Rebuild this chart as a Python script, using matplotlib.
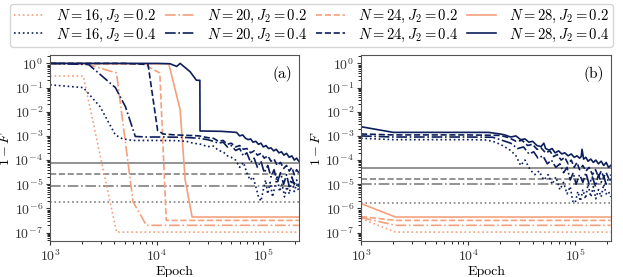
import numpy as np
import matplotlib
matplotlib.use("Agg")
import matplotlib.pyplot as plt
from matplotlib.lines import Line2D

plt.rcParams["mathtext.fontset"] = "cm"
plt.rcParams["font.family"] = "serif"
plt.rcParams["font.serif"] = ["cmr10", "DejaVu Serif"]
plt.rcParams["axes.unicode_minus"] = False
plt.rcParams["axes.formatter.use_mathtext"] = True

ORANGE = "#f4a07c"
NAVY = "#0c1f5c"
GRAY = "#808080"

sizes = [16, 20, 24, 28]
styles = [":", "-.", "--", "-"]

# ---- panel (a): (epoch, 1-F) ----
a_o16 = [(1000, 0.3), (2050, 0.3), (4200, 1.05e-7), (215000, 1.05e-7)]
a_o20 = [(1000, 1.0), (2200, 0.95), (4200, 0.4), (6000, 1.9e-6), (8000, 2e-7), (215000, 2e-7)]
a_o24 = [(1000, 1.0), (7500, 0.95), (10700, 0.4), (12300, 3.2e-7), (215000, 3.2e-7)]
a_o28 = [(1000, 1.0), (13000, 0.95), (16600, 1.2e-2), (18500, 1.5e-5), (21500, 4.4e-7),
         (215000, 4.4e-7)]

a_n16 = [(1000, 0.13), (2050, 0.1), (2950, 1.6e-2), (4100, 1.1e-3), (4800, 7.5e-4),
         (6000, 6.5e-4), (10000, 6.5e-4), (15000, 6.4e-4), (19000, 6e-4), (22000, 5e-4),
         (26000, 4.5e-4), (30000, 3.6e-4), (34000, 3.8e-4), (38000, 2.5e-4), (42000, 2.2e-4),
         (46000, 1.5e-4), (50000, 1.3e-4), (55000, 1e-4), (60000, 5e-5), (65000, 8e-5),
         (70000, 3e-5), (75000, 1.5e-5), (80000, 2e-5), (85000, 8e-6), (90000, 3e-6),
         (95000, 2e-6), (100000, 6e-6), (105000, 1.5e-5), (110000, 4e-6), (116000, 1.2e-5),
         (122000, 3e-6), (128000, 8e-6), (135000, 2e-5), (142000, 5e-6), (150000, 1e-5),
         (158000, 3e-6), (166000, 8e-6), (175000, 4e-6), (185000, 1.5e-5), (195000, 5e-6),
         (205000, 1e-5), (215000, 5e-6)]
a_n20 = [(1000, 1.0), (2300, 0.9), (4100, 0.1), (5100, 1.6e-2), (6300, 9.5e-4),
         (8000, 9e-4), (12000, 9e-4), (16000, 8.8e-4), (20000, 8.5e-4), (25000, 8e-4),
         (30000, 7e-4), (34000, 6e-4), (38000, 5e-4), (42000, 5.5e-4), (46000, 3.5e-4),
         (50000, 4e-4), (55000, 2.5e-4), (60000, 3e-4), (65000, 1.5e-4), (70000, 2e-4),
         (76000, 8e-5), (82000, 1.2e-4), (88000, 5e-5), (95000, 9e-5), (102000, 3e-5),
         (110000, 6e-5), (118000, 2e-5), (126000, 4e-5), (135000, 1.2e-5), (145000, 3e-5),
         (155000, 1e-5), (165000, 2.5e-5), (175000, 8e-6), (185000, 2e-5), (195000, 1e-5),
         (205000, 1.5e-5), (215000, 8e-6)]
a_n24 = [(1000, 1.0), (5000, 1.0), (8300, 0.9), (10200, 1.7e-3), (11500, 1.2e-3),
         (15000, 1.1e-3), (20000, 1.05e-3), (25000, 1e-3), (30000, 8.5e-4), (34000, 8e-4),
         (38000, 6e-4), (42000, 6.5e-4), (46000, 4.5e-4), (50000, 5e-4), (55000, 3.5e-4),
         (60000, 4e-4), (65000, 2.8e-4), (70000, 3e-4), (76000, 2e-4), (82000, 2.4e-4),
         (88000, 1.6e-4), (95000, 1.9e-4), (102000, 1.2e-4), (110000, 1.5e-4), (118000, 9e-5),
         (126000, 1.1e-4), (135000, 6e-5), (145000, 8e-5), (155000, 4.5e-5), (165000, 6e-5),
         (175000, 3.5e-5), (185000, 5e-5), (195000, 2.5e-5), (205000, 4e-5), (215000, 3e-5)]
a_n28 = [(1000, 1.0), (10000, 1.0), (13300, 0.97), (15400, 0.75), (16600, 1.0),
         (20600, 0.45), (23600, 0.2), (25400, 0.2), (25500, 1.6e-3), (40000, 1.55e-3),
         (56000, 1.4e-3), (60000, 1.0e-3), (64000, 1.1e-3), (68000, 8e-4), (72000, 7e-4),
         (76000, 7.5e-4), (80000, 5.5e-4), (85000, 6e-4), (90000, 4.5e-4), (95000, 5e-4),
         (100000, 3.5e-4), (106000, 4e-4), (112000, 3e-4), (118000, 3.2e-4), (125000, 2.4e-4),
         (132000, 2.8e-4), (140000, 2e-4), (148000, 2.2e-4), (156000, 1.6e-4), (165000, 1.9e-4),
         (175000, 1.3e-4), (185000, 1.5e-4), (195000, 1.0e-4), (205000, 1.2e-4), (215000, 9e-5)]
a_thresholds = [1.8e-6, 8.5e-6, 2.7e-5, 7.8e-5]

# ---- panel (b) ----
b_o16 = [(1000, 3.8e-7), (2100, 1.05e-7), (215000, 1.05e-7)]
b_o20 = [(1000, 4.2e-7), (2100, 2e-7), (215000, 2e-7)]
b_o24 = [(1000, 4.6e-7), (2100, 3.2e-7), (215000, 3.2e-7)]
b_o28 = [(1000, 1.6e-6), (2100, 4.4e-7), (215000, 4.4e-7)]

b_n16 = [(1000, 8e-4), (2000, 7e-4), (10000, 7e-4), (15000, 6.8e-4), (18000, 5.5e-4),
         (21000, 4e-4), (25000, 2.5e-4), (28000, 1.5e-4), (31000, 6e-5), (34000, 1e-4),
         (38000, 4e-5), (42000, 2.5e-5), (46000, 3.5e-5), (51000, 1.5e-5), (56000, 2.5e-5),
         (61000, 1e-5), (66000, 2e-5), (72000, 6e-6), (78000, 1.2e-5), (84000, 4e-6),
         (90000, 8e-6), (95000, 2e-6), (100000, 1.7e-6), (106000, 5e-6), (112000, 2e-6),
         (118000, 6e-6), (125000, 2.5e-6), (132000, 1e-5), (140000, 3e-6), (148000, 8e-6),
         (156000, 2.5e-6), (165000, 6e-6), (175000, 3e-6), (185000, 1e-5), (195000, 4e-6),
         (205000, 5e-6), (215000, 3e-6)]
b_n20 = [(1000, 1.0e-3), (2000, 9e-4), (10000, 9e-4), (17000, 8.8e-4), (21000, 6.5e-4),
         (25000, 5e-4), (29000, 3e-4), (33000, 3.5e-4), (37000, 1.8e-4), (41000, 2.2e-4),
         (45000, 1.2e-4), (50000, 1.5e-4), (55000, 7e-5), (60000, 1e-4), (66000, 5e-5),
         (72000, 7e-5), (78000, 3e-5), (84000, 5e-5), (90000, 1.5e-5), (96000, 3e-5),
         (102000, 1e-5), (110000, 2.5e-5), (118000, 1.2e-5), (126000, 3e-5), (135000, 1e-5),
         (145000, 2e-5), (155000, 8e-6), (165000, 2.5e-5), (175000, 1.2e-5), (185000, 2e-5),
         (195000, 1e-5), (205000, 1.8e-5), (215000, 1.4e-5)]
b_n24 = [(1000, 1.2e-3), (2000, 1.1e-3), (10000, 1.1e-3), (20000, 1.05e-3), (24000, 8.5e-4),
         (28000, 6e-4), (32000, 6.5e-4), (36000, 4e-4), (40000, 4.5e-4), (44000, 2.8e-4),
         (48000, 3.2e-4), (53000, 2e-4), (58000, 2.4e-4), (63000, 1.4e-4), (68000, 1.7e-4),
         (74000, 1e-4), (80000, 1.3e-4), (86000, 7e-5), (92000, 1e-4), (98000, 5e-5),
         (104000, 8e-5), (110000, 4e-5), (118000, 6e-5), (126000, 3.5e-5), (135000, 5e-5),
         (145000, 2.5e-5), (155000, 4e-5), (165000, 2e-5), (175000, 3.5e-5), (185000, 2e-5),
         (195000, 3e-5), (205000, 1.8e-5), (215000, 2.5e-5)]
b_n28 = [(1000, 2.4e-3), (2000, 1.4e-3), (10000, 1.4e-3), (15500, 1.4e-3), (20000, 1.2e-3),
         (22000, 1.1e-3), (25000, 9e-4), (28000, 1e-3), (31000, 7e-4), (34000, 7.5e-4),
         (37000, 5.5e-4), (40000, 6e-4), (44000, 4e-4), (48000, 3.6e-4), (51000, 5e-4),
         (53000, 3e-4), (57000, 2.6e-4), (61000, 3e-4), (65000, 2e-4), (70000, 2.4e-4),
         (75000, 1.8e-4), (80000, 2e-4), (86000, 1.5e-4), (92000, 1.8e-4), (98000, 1.3e-4),
         (104000, 1.5e-4), (110000, 1.2e-4), (114000, 1.4e-4), (116000, 2.8e-4), (120000, 1.1e-4),
         (126000, 1.3e-4), (132000, 9e-5), (140000, 1.1e-4), (148000, 8e-5), (156000, 1e-4),
         (165000, 7e-5), (175000, 9e-5), (185000, 6e-5), (195000, 8e-5), (205000, 5e-5),
         (215000, 6e-5)]
b_thresholds = [1.7e-6, 1.05e-5, 1.65e-5, 4.7e-5]

panels = [
    ("(a)", [a_o16, a_o20, a_o24, a_o28], [a_n16, a_n20, a_n24, a_n28], a_thresholds),
    ("(b)", [b_o16, b_o20, b_o24, b_o28], [b_n16, b_n20, b_n24, b_n28], b_thresholds),
]

fig = plt.figure(figsize=(6.23, 2.77), dpi=100)
axes = [fig.add_axes([0.0803, 0.13, 0.400, 0.671]),
        fig.add_axes([0.5795, 0.13, 0.4015, 0.671])]

for ax, (label, oranges, navies, thr) in zip(axes, panels):
    for t, ls in zip(thr, styles):
        ax.axhline(t, color=GRAY, ls=ls, lw=1.2)
    for curve, ls in zip(oranges, styles):
        x, y = zip(*curve)
        ax.plot(x, y, color=ORANGE, ls=ls, lw=1.2)
    for curve, ls in zip(navies, styles):
        x, y = zip(*curve)
        ax.plot(x, y, color=NAVY, ls=ls, lw=1.2)
    ax.set_xscale("log")
    ax.set_yscale("log")
    ax.set_xlim(1e3, 2.17e5)
    ax.set_ylim(4.5e-8, 2.2)
    ax.set_yticks([1e0, 1e-1, 1e-2, 1e-3, 1e-4, 1e-5, 1e-6, 1e-7])
    ax.yaxis.set_minor_locator(matplotlib.ticker.LogLocator(base=10, subs=np.arange(2, 10), numticks=20))
    ax.yaxis.set_minor_formatter(matplotlib.ticker.NullFormatter())
    ax.set_xlabel("Epoch", fontsize=10, labelpad=1)
    ax.set_ylabel("$1-F$", fontsize=10, labelpad=2)
    ax.tick_params(labelsize=10, colors="#333333", length=3, pad=2)
    ax.tick_params(which="minor", length=2)
    for s in ax.spines.values():
        s.set_color("#555555")
    ax.text(0.97, 0.94, label, transform=ax.transAxes, ha="right", va="top", fontsize=11)

handles = []
labels = []
for n, ls in zip(sizes, styles):
    handles.append(Line2D([], [], color=ORANGE, ls=ls, lw=1.2))
    labels.append(r"$N=%d, J_2=0.2$" % n)
    handles.append(Line2D([], [], color=NAVY, ls=ls, lw=1.2))
    labels.append(r"$N=%d, J_2=0.4$" % n)

fig.legend(handles, labels, ncol=4, loc="upper left", mode="expand",
           bbox_to_anchor=(0.016, 0.985, 0.968, 0.0), fontsize=10.5,
           handlelength=2.0, handletextpad=0.9, columnspacing=1.0,
           labelspacing=0.1, borderpad=0.25, borderaxespad=0.0,
           frameon=True, edgecolor="#cccccc")

fig.savefig("out.png", dpi=100)
